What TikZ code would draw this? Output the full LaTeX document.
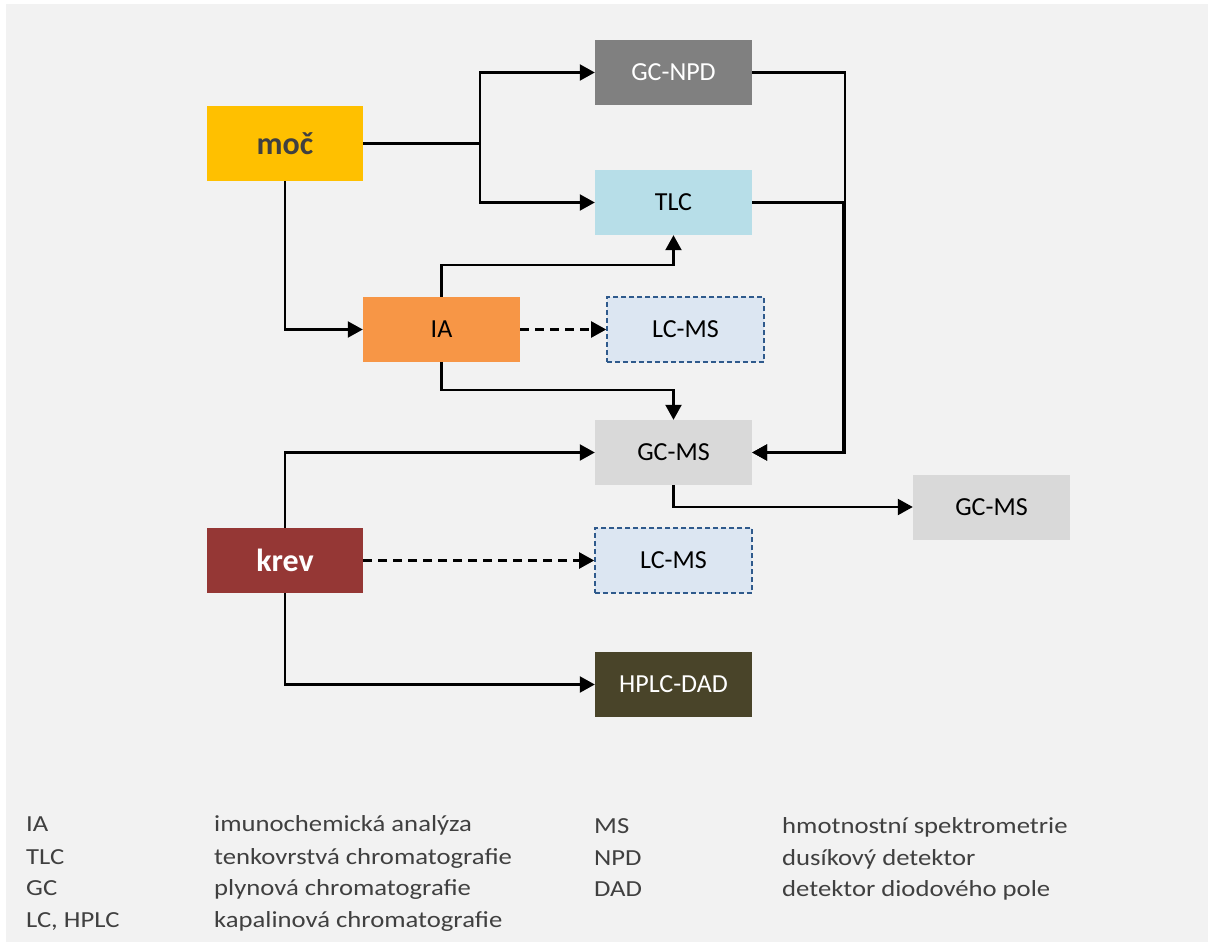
\documentclass[tikz,border=0pt]{standalone}
\usepackage{fontspec}
\setmainfont{Carlito}
\usepackage{graphicx}
\usepackage{tikz}
\usetikzlibrary{arrows.meta}

\definecolor{bgcol}{HTML}{F2F2F2}
\definecolor{moccol}{HTML}{FFC000}
\definecolor{npdcol}{HTML}{808080}
\definecolor{tlccol}{HTML}{B7DEE8}
\definecolor{iacol}{HTML}{F79646}
\definecolor{lcfill}{HTML}{DCE6F2}
\definecolor{lcline}{HTML}{2F5A8C}
\definecolor{gccol}{HTML}{D9D9D9}
\definecolor{krevcol}{HTML}{953735}
\definecolor{hplccol}{HTML}{494429}
\definecolor{darktext}{HTML}{404040}

\newcommand\legtext[1]{\scalebox{1.16}[1]{#1}}

\tikzset{
  box/.style={minimum width=157pt, minimum height=65pt, inner sep=0pt,
    font=\fontsize{26}{30}\selectfont},
  bigbox/.style={box, minimum width=156pt, font=\bfseries\fontsize{32}{36}\selectfont},
  dbox/.style={box, draw=lcline, line width=1.6pt, dash pattern=on 5pt off 3pt, fill=lcfill},
  arr/.style={line width=2.2pt, -{Triangle[length=15pt,width=16pt]}},
  darr/.style={arr, dash pattern=on 9pt off 6pt},
  leg/.style={anchor=base west, inner sep=0pt, text=darktext,
    font=\fontsize{23}{26}\selectfont}
}

\begin{document}
\begin{tikzpicture}[x=1pt,y=-1pt]

 \path[use as bounding box] (0,0) rectangle (1208,942);
 \fill[bgcol] (6,4) rectangle (1208,942);

 % sample boxes
 \node[bigbox, fill=moccol, minimum height=75pt, text=darktext] (moc) at (285,143.5) {moč};
 \node[bigbox, fill=krevcol, text=white] (krev) at (285,560.5) {krev};

 % methods
 \node[box, fill=npdcol, text=white] (gcnpd) at (673.5,72.5) {GC-NPD};
  \node[box, fill=tlccol] (tlc) at (673.5,202.5) {TLC};
   \node[box, fill=iacol] (ia) at (441.5,329.5) {IA};
    \node[dbox] (lcms1) at (685.5,329.5) {LC-MS};
     \node[box, fill=gccol] (gcms) at (673.5,452.5) {GC-MS};
      \node[box, fill=gccol] (gcms2) at (991.5,507) {GC-MS};
       \node[dbox] (lcms2) at (673.5,560.5) {LC-MS};
        \node[box, fill=hplccol, text=white] (hplc) at (673.5,684.5) {HPLC-DAD};

 \coordinate (split) at (480,143.5);
 \coordinate (rj1) at (845,452.5);
 \coordinate (rj2) at (843,452.5);

 \draw[line width=2.2pt] (moc.east) -- (split);
 \draw[arr] (split) |- (gcnpd.west);
 \draw[arr] (split) |- (tlc.west);
 \draw[arr] (moc.south) |- (ia.west);
\draw[arr] (ia.north) -- ++(0,-32) -| (tlc.south);
\draw[darr] (ia.east) -- (lcms1.west);
\draw[arr] (ia.south) -- ++(0,28) -| (gcms.north);
\draw[arr] (gcnpd.east) -| (rj1) -- (gcms.east);
\draw[arr] (tlc.east) -| (rj2) -- (gcms.east);
\draw[arr] (gcms.south) |- (gcms2.west);
\draw[arr] (krev.north) |- (gcms.west);
\draw[darr] (krev.east) -- (lcms2.west);
\draw[arr] (krev.south) |- (hplc.west);

 % legend
 \node[leg] (l1) at (26,831) {\legtext{IA}};
  \node[leg] (l2) at (26,864) {\legtext{TLC}};
   \node[leg] (l3) at (26,895) {\legtext{GC}};
    \node[leg] (l4) at (26,927) {\legtext{LC, HPLC}};
 \node[leg] (d1) at (214,831) {\legtext{imunochemická analýza}};
  \node[leg] (d2) at (214,864) {\legtext{tenkovrstvá chromatografie}};
   \node[leg] (d3) at (214,895) {\legtext{plynová chromatografie}};
    \node[leg] (d4) at (214,927) {\legtext{kapalinová chromatografie}};
 \node[leg] (l5) at (594,833) {\legtext{MS}};
  \node[leg] (l6) at (594,865) {\legtext{NPD}};
   \node[leg] (l7) at (594,896) {\legtext{DAD}};
 \node[leg] (d5) at (782,833) {\legtext{hmotnostní spektrometrie}};
  \node[leg] (d6) at (782,865) {\legtext{dusíkový detektor}};
   \node[leg] (d7) at (782,896) {\legtext{detektor diodového pole}};

\end{tikzpicture}
\end{document}
